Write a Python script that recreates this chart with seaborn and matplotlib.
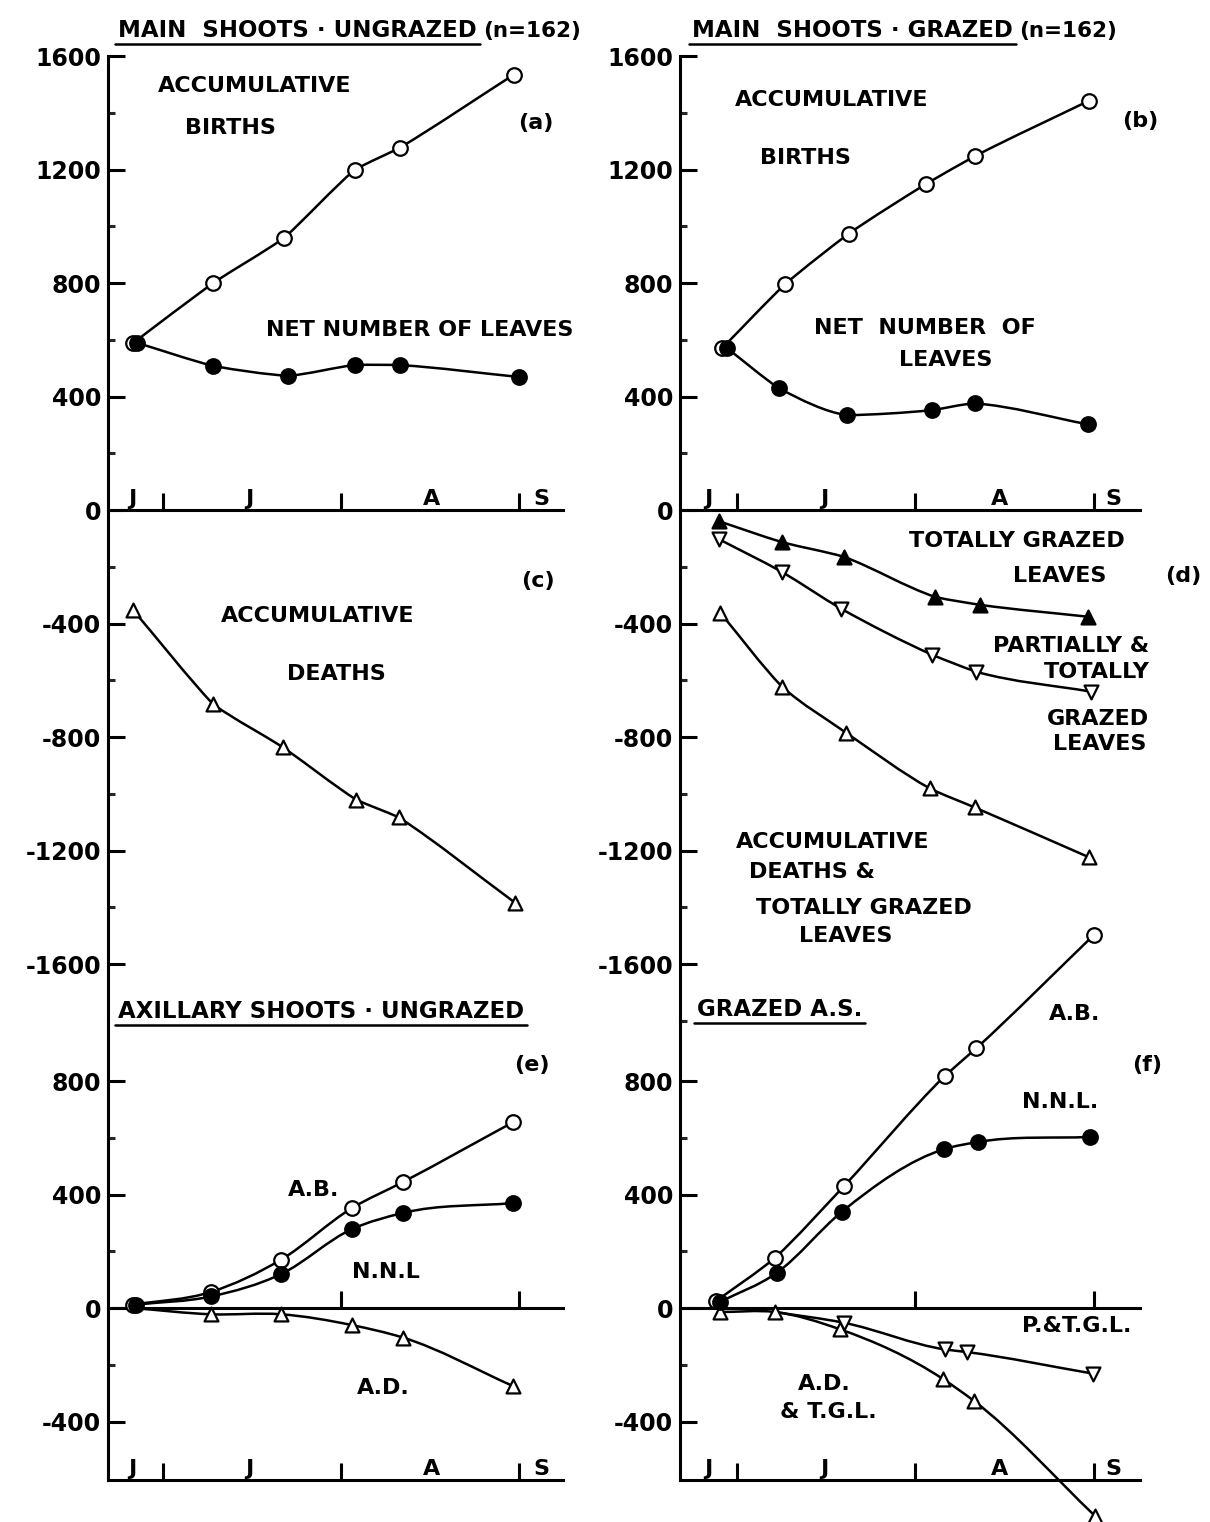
import numpy as np
import matplotlib
matplotlib.use("Agg")
import matplotlib.pyplot as plt
import seaborn as sns
from matplotlib.path import Path
from matplotlib.patches import PathPatch
from matplotlib.lines import Line2D
from matplotlib.ticker import FixedLocator, NullLocator

# ---------------------------------------------------------------------------
# Data: days counted from 1 June (1 July = 30, 1 August = 61, 1 September = 92)
# ---------------------------------------------------------------------------
MONTH_STARTS = [30, 61, 92]
MONTH_LETTERS = ["J", "J", "A", "S"]

# (a) main shoots, ungrazed: accumulative births and net number of leaves
a_birth_day = [24.8, 38.7, 51.1, 63.4, 71.3, 91.1]
a_birth = [589, 800, 959, 1199, 1277, 1534]
a_net_day = [25.5, 38.7, 51.8, 63.4, 71.3, 92.0]
a_net = [589, 508, 473, 511, 511, 469]

# (c) main shoots, ungrazed: accumulative deaths
c_death_day = [24.8, 38.7, 50.9, 63.6, 71.1, 91.3]
c_death = [-353, -684, -836, -1020, -1083, -1383]

# (b) main shoots, grazed
b_birth_day = [27.4, 38.3, 49.4, 62.9, 71.4, 91.1]
b_birth = [570, 795, 974, 1150, 1248, 1442]
b_net_day = [28.3, 37.3, 49.1, 63.8, 71.3, 91.0]
b_net = [570, 429, 334, 352, 376, 302]

# (d) main shoots, grazed: losses
d_total_day = [26.8, 37.8, 48.6, 64.4, 72.2, 91.0]
d_total = [-39, -113, -165, -306, -334, -376]
d_partial_day = [26.8, 37.8, 48.1, 63.9, 71.6, 91.5]
d_partial = [-102, -218, -348, -510, -570, -640]
d_deaths_day = [27.1, 37.8, 48.9, 63.5, 71.3, 91.2]
d_deaths = [-362, -622, -784, -981, -1048, -1224]

# (e) axillary shoots, ungrazed
e_day = [24.8, 38.4, 50.6, 62.9, 71.8, 91.0]
e_net_day = [25.3, 38.4, 50.6, 62.9, 71.8, 91.0]
e_birth = [12, 57, 171, 352, 444, 655]
e_net = [12, 41, 120, 278, 335, 370]
e_death = [0, -22, -22, -60, -104, -275]

# (f) axillary shoots, grazed
f_birth_day = [26.4, 36.6, 48.6, 66.1, 71.6, 92.0]
f_birth = [25, 177, 430, 818, 916, 1315]
f_net_day = [27.1, 36.9, 48.2, 66.0, 71.8, 91.3]
f_net = [22, 124, 339, 560, 585, 603]
f_death_day = [27.1, 36.6, 47.9, 65.7, 71.2, 92.2]
f_death = [-14, -14, -75, -249, -328, -733]
f_partial_day = [36.6, 48.6, 66.2, 69.9, 91.8]
f_partial = [-14, -52, -146, -155, -231]

# ---------------------------------------------------------------------------
# Style
# ---------------------------------------------------------------------------
sns.set_theme(style="ticks", context="notebook")
plt.rcParams["font.family"] = ["DejaVu Sans"]
plt.rcParams["font.weight"] = "bold"
plt.rcParams["axes.unicode_minus"] = False

FS = 16          # body lettering
LW = 1.8         # curve width
SPINE_W = 2.2
MEW = 1.6
S_CIRC = 110
S_TRI = 100

W, H = 1210, 1522
fig = plt.figure(figsize=(W / 100, H / 100), dpi=100)
fig.patch.set_facecolor("white")


def rect(x0, y0, x1, y1):
    """Pixel box (origin top-left) -> figure fraction rectangle."""
    return [x0 / W, 1 - y1 / H, (x1 - x0) / W, (y1 - y0) / H]


ax_l = fig.add_axes(rect(108, 56, 563, 1022))
ax_r = fig.add_axes(rect(680, 56, 1140, 1022))
ax_e = fig.add_axes(rect(108, 1022, 563, 1480))
ax_f = fig.add_axes(rect(680, 1022, 1140, 1480))

TOP_YLIM = (-1804, 1600)
BOT_YLIM = (-606, 1008)
XLIM_L = (20.4, 99.7)
XLIM_R = (20.1, 100.0)


def smooth_curve(ax, x, y, tension=1.0, clip=False):
    """Cubic curve through the points; tension 0 gives straight segments,
    1 a fully smooth Hermite curve."""
    x = np.asarray(x, float)
    y = np.asarray(y, float)
    h = np.diff(x)
    d = np.diff(y) / h
    n = len(x)
    m = np.empty(n)
    m[0], m[-1] = d[0], d[-1]
    for i in range(1, n - 1):
        if d[i - 1] * d[i] < 0:
            m[i] = 0.0
        else:
            m[i] = (h[i] * d[i - 1] + h[i - 1] * d[i]) / (h[i - 1] + h[i])
    verts = [(x[0], y[0])]
    codes = [Path.MOVETO]
    for i in range(n - 1):
        m0 = tension * m[i] + (1 - tension) * d[i]
        m1 = tension * m[i + 1] + (1 - tension) * d[i]
        verts += [(x[i] + h[i] / 3, y[i] + m0 * h[i] / 3),
                  (x[i + 1] - h[i] / 3, y[i + 1] - m1 * h[i] / 3),
                  (x[i + 1], y[i + 1])]
        codes += [Path.CURVE4] * 3
    patch = PathPatch(Path(verts, codes), fill=False, edgecolor="black",
                      linewidth=LW, zorder=2, clip_on=clip,
                      capstyle="round", joinstyle="round")
    ax.add_patch(patch)


def markers(ax, x, y, marker, filled, size, z=4):
    sns.scatterplot(x=x, y=y, ax=ax, marker=marker, s=size,
                    color="black" if filled else "white",
                    edgecolor="black", linewidth=MEW, zorder=z,
                    clip_on=False, legend=False)


def series(ax, x, y, marker, filled, size, z=4, mark_from=0, tension=1.0):
    smooth_curve(ax, x, y, tension=tension)
    markers(ax, x[mark_from:], y[mark_from:], marker, filled, size, z)


def style_y(ax, major, minor):
    ax.yaxis.set_major_locator(FixedLocator(major))
    ax.set_yticklabels([str(v) for v in major])
    ax.yaxis.set_minor_locator(FixedLocator(minor))
    ax.tick_params(axis="y", which="major", direction="in", length=12,
                   width=SPINE_W, labelsize=FS + 1, pad=5, colors="black")
    ax.tick_params(axis="y", which="minor", direction="in", length=5,
                   width=SPINE_W)
    ax.spines["left"].set_linewidth(SPINE_W)
    ax.spines["left"].set_color("black")


def style_x(ax, xlim):
    ax.set_xlim(*xlim)
    ax.xaxis.set_major_locator(FixedLocator(MONTH_STARTS))
    ax.xaxis.set_minor_locator(NullLocator())
    ax.tick_params(axis="x", which="major", direction="in", length=12,
                   width=SPINE_W, labelbottom=False, colors="black")
    ax.spines["bottom"].set_linewidth(SPINE_W)
    ax.spines["bottom"].set_color("black")
    ax.spines["top"].set_visible(False)
    ax.spines["right"].set_visible(False)
    ax.set_facecolor("none")
    ax.set_xlabel("")
    ax.set_ylabel("")


def month_letters(ax, positions, on_zero):
    for d, letter in zip(positions, MONTH_LETTERS):
        coords = ("data", "data") if on_zero else ("data", "axes fraction")
        ax.annotate(letter, xy=(d, 0), xycoords=coords, xytext=(0, 3.8),
                    textcoords="offset points", ha="center", va="baseline",
                    fontsize=FS, color="black")


LETTERS_L = [24.6, 45.1, 76.7, 96.0]
LETTERS_R = [25.0, 45.2, 75.6, 95.3]

# ---------------------------------------------------------------------------
# Left column, top: (a) and (c)
# ---------------------------------------------------------------------------
series(ax_l, a_birth_day, a_birth, "o", False, S_CIRC, z=4, tension=0.35)
series(ax_l, a_net_day, a_net, "o", True, S_CIRC, z=5, tension=0.5)
series(ax_l, c_death_day, c_death, "^", False, S_TRI, tension=0.35)

# Right column, top: (b) and (d)
series(ax_r, b_birth_day, b_birth, "o", False, S_CIRC, z=4, tension=0.5)
series(ax_r, b_net_day, b_net, "o", True, S_CIRC, z=5, tension=0.6)
series(ax_r, d_total_day, d_total, "^", True, S_TRI, tension=0.6)
series(ax_r, d_partial_day, d_partial, "v", False, S_TRI, tension=0.7)
series(ax_r, d_deaths_day, d_deaths, "^", False, S_TRI, tension=0.7)

top_major = list(range(-1600, 1601, 400))
top_minor = [v for v in range(-1800, 1601, 200) if v % 400]
for ax, xlim, letters, minor in [
        (ax_l, XLIM_L, LETTERS_L, [v for v in top_minor if v > -1800]),
        (ax_r, XLIM_R, LETTERS_R, top_minor)]:
    ax.set_ylim(*TOP_YLIM)
    style_x(ax, xlim)
    ax.spines["bottom"].set_position(("data", 0))
    style_y(ax, top_major, minor)
    month_letters(ax, letters, on_zero=True)

# ---------------------------------------------------------------------------
# Bottom row: (e) and (f)
# ---------------------------------------------------------------------------
series(ax_e, e_day, e_birth, "o", False, S_CIRC, z=4)
series(ax_e, e_net_day, e_net, "o", True, S_CIRC, z=5)
series(ax_e, e_day, e_death, "^", False, S_TRI, z=3, mark_from=1)

series(ax_f, f_birth_day, f_birth, "o", False, S_CIRC, z=4, tension=0.7)
series(ax_f, f_net_day, f_net, "o", True, S_CIRC, z=5)
series(ax_f, f_death_day, f_death, "^", False, S_TRI, z=3)
series(ax_f, f_partial_day, f_partial, "v", False, S_TRI, z=3, mark_from=1)

bot_major = [-400, 0, 400, 800]
bot_minor = [-200, 200, 600]
zero_frac = -BOT_YLIM[0] / (BOT_YLIM[1] - BOT_YLIM[0])
for ax, xlim, letters in [(ax_e, XLIM_L, LETTERS_L), (ax_f, XLIM_R, LETTERS_R)]:
    ax.set_ylim(*BOT_YLIM)
    style_x(ax, xlim)
    style_y(ax, bot_major, bot_minor)
    month_letters(ax, letters, on_zero=False)
    # zero line with August / September marks
    sec = ax.secondary_xaxis(zero_frac)
    sec.xaxis.set_major_locator(FixedLocator(MONTH_STARTS[1:]))
    sec.xaxis.set_minor_locator(NullLocator())
    sec.tick_params(axis="x", direction="in", length=12, width=SPINE_W,
                    labelbottom=False, labeltop=False, colors="black")
    for sp in sec.spines.values():
        sp.set_linewidth(SPINE_W)
        sp.set_color("black")

# ---------------------------------------------------------------------------
# Lettering
# ---------------------------------------------------------------------------
def label(px, py, s, ha="center", size=FS):
    return fig.text(px / W, 1 - py / H, s, ha=ha, va="baseline",
                    fontsize=size, color="black")


renderer = fig.canvas.get_renderer()


def heading(px, py, s, size, extra=None):
    t = label(px, py, s, ha="left", size=size)
    bb = t.get_window_extent(renderer=renderer)
    yline = (H - (py + 7)) / H
    fig.add_artist(Line2D([(bb.x0 - 3) / W, (bb.x1 + 3) / W], [yline, yline],
                          transform=fig.transFigure, color="black", lw=1.8))
    if extra:
        fig.text((bb.x1 + 6) / W, 1 - py / H, extra, ha="left",
                 va="baseline", fontsize=size - 1, color="black")


heading(118, 37, "MAIN  SHOOTS · UNGRAZED", 16.5, "(n=162)")
heading(692, 37, "MAIN  SHOOTS · GRAZED", 16.5, "(n=162)")
heading(118, 1018, "AXILLARY SHOOTS · UNGRAZED", 16.5)
heading(697, 1016, "GRAZED A.S.", 16.5)

# (a)
label(255, 91.5, "ACCUMULATIVE")
label(230, 133.5, "BIRTHS")
label(536, 128.5, "(a)")
label(420, 335.5, "NET NUMBER OF LEAVES")
# (c)
label(538, 586.5, "(c)")
label(318, 621.5, "ACCUMULATIVE")
label(336, 679.5, "DEATHS")
# (b)
label(832, 105.5, "ACCUMULATIVE")
label(805, 163.5, "BIRTHS")
label(1140, 126.5, "(b)")
label(925, 333.5, "NET  NUMBER  OF")
label(946, 365.5, "LEAVES")
# (d)
label(1017, 546.5, "TOTALLY GRAZED")
label(1060, 581.5, "LEAVES")
label(1183, 581.5, "(d)")
label(1071, 651.5, "PARTIALLY &")
label(1097, 678.5, "TOTALLY")
label(1098, 725.5, "GRAZED")
label(1100, 750.5, "LEAVES")
label(833, 848.5, "ACCUMULATIVE")
label(812, 878.5, "DEATHS &")
label(864, 913.5, "TOTALLY GRAZED")
label(846, 941.5, "LEAVES")
# (e)
label(532, 1071.5, "(e)")
label(314, 1195.5, "A.B.")
label(386, 1278.5, "N.N.L")
label(383, 1393.5, "A.D.")
# (f)
label(1075, 1020.5, "A.B.")
label(1147, 1070.5, "(f)")
label(1060, 1108.5, "N.N.L.")
label(1077, 1331.5, "P.&T.G.L.")
label(824, 1390.5, "A.D.")
label(828, 1418.5, "& T.G.L.")

fig.savefig("out.png", dpi=100, facecolor="white")
